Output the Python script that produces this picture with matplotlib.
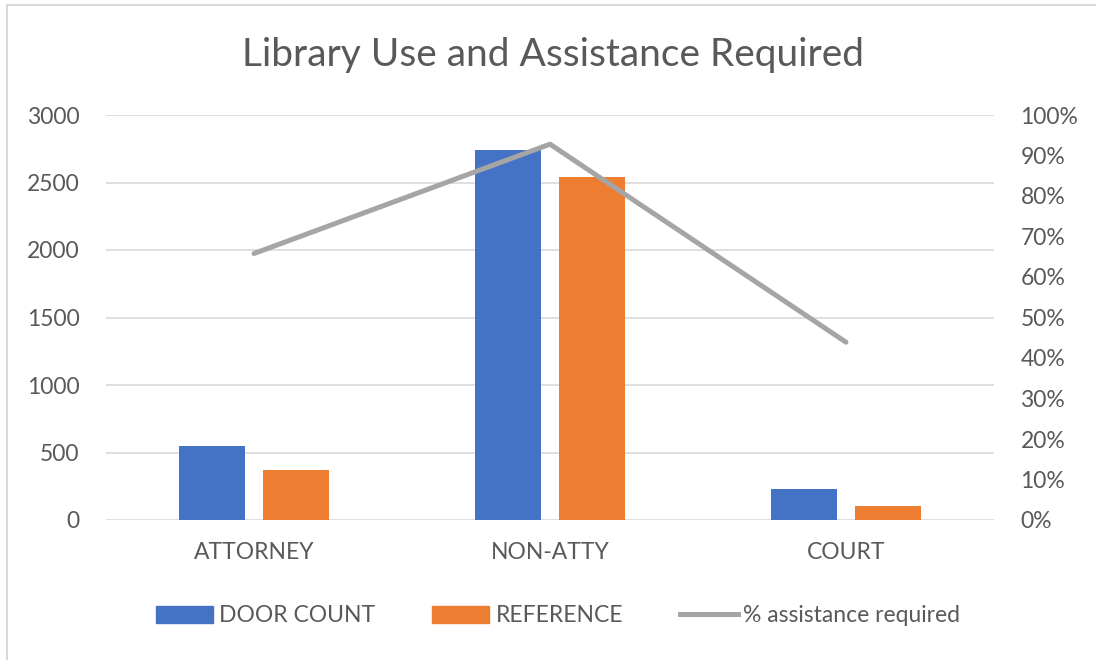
import matplotlib
matplotlib.use("Agg")
import matplotlib.pyplot as plt
import numpy as np
from matplotlib.lines import Line2D
from matplotlib.patches import Patch
from matplotlib.ticker import FuncFormatter

categories = ["ATTORNEY", "NON-ATTY", "COURT"]
door_count = [548, 2740, 228]
reference = [368, 2540, 106]
pct_assist = [0.658, 0.928, 0.439]

BLUE = "#4472C4"
ORANGE = "#ED7D31"
GRAY = "#A5A5A5"
TXT = "#595959"
GRID = "#D9D9D9"
FS = 16.5

plt.rcParams['font.family'] = ['Lato', 'DejaVu Sans']

fig = plt.figure(figsize=(10.96, 6.6), dpi=100)
ax = fig.add_axes([106/1096, 1 - 520/660, (994-106)/1096, (520-115)/660])
x = np.arange(len(categories))
w = 0.223
off = 0.142
ax.bar(x - off, door_count, w, color=BLUE, zorder=3)
ax.bar(x + off, reference, w, color=ORANGE, zorder=3)
ax.set_xlim(-0.5, 2.5)
ax.set_ylim(0, 3000)
ax.set_yticks(np.arange(0, 3001, 500))
ax.yaxis.grid(True, color=GRID, linewidth=1.2, zorder=0)
ax.set_xticks(x)
ax.set_xticklabels(categories)
for s in ax.spines.values():
    s.set_visible(False)
ax.tick_params(axis='both', length=0, colors=TXT, labelsize=FS)
ax.tick_params(axis='x', pad=16)
ax.tick_params(axis='y', pad=19)

ax2 = ax.twinx()
ax2.plot(x, pct_assist, color=GRAY, linewidth=3.6, solid_capstyle='round', zorder=4)
ax2.set_ylim(0, 1)
ax2.set_yticks(np.arange(0, 1.01, 0.1))
ax2.yaxis.set_major_formatter(FuncFormatter(lambda v, p: f"{v*100:.0f}%"))
for s in ax2.spines.values():
    s.set_visible(False)
ax2.tick_params(axis='y', length=0, colors=TXT, labelsize=FS, pad=19)

fig.text(553/1096, 1 - 55/660, "Library Use and Assistance Required",
         ha='center', va='center', fontsize=28, color=TXT)

handles = [Patch(color=BLUE, label="DOOR COUNT"),
           Patch(color=ORANGE, label="REFERENCE"),
           Line2D([0], [0], color=GRAY, linewidth=3.6, label="% assistance required")]
leg = fig.legend(handles=handles, loc='center', bbox_to_anchor=(558/1096, 1 - 616/660),
                 ncol=3, frameon=False, fontsize=FS, handlelength=2.5, handleheight=0.7,
                 handletextpad=0.26, columnspacing=2.5)
for t in leg.get_texts():
    t.set_color(TXT)

fig.add_artist(Line2D([7/1096, 7/1096], [0, 1 - 5/660], color=GRID, linewidth=1.5))
fig.add_artist(Line2D([7/1096, 1], [1 - 5/660, 1 - 5/660], color=GRID, linewidth=1.5))

fig.savefig("out.png", dpi=100)
